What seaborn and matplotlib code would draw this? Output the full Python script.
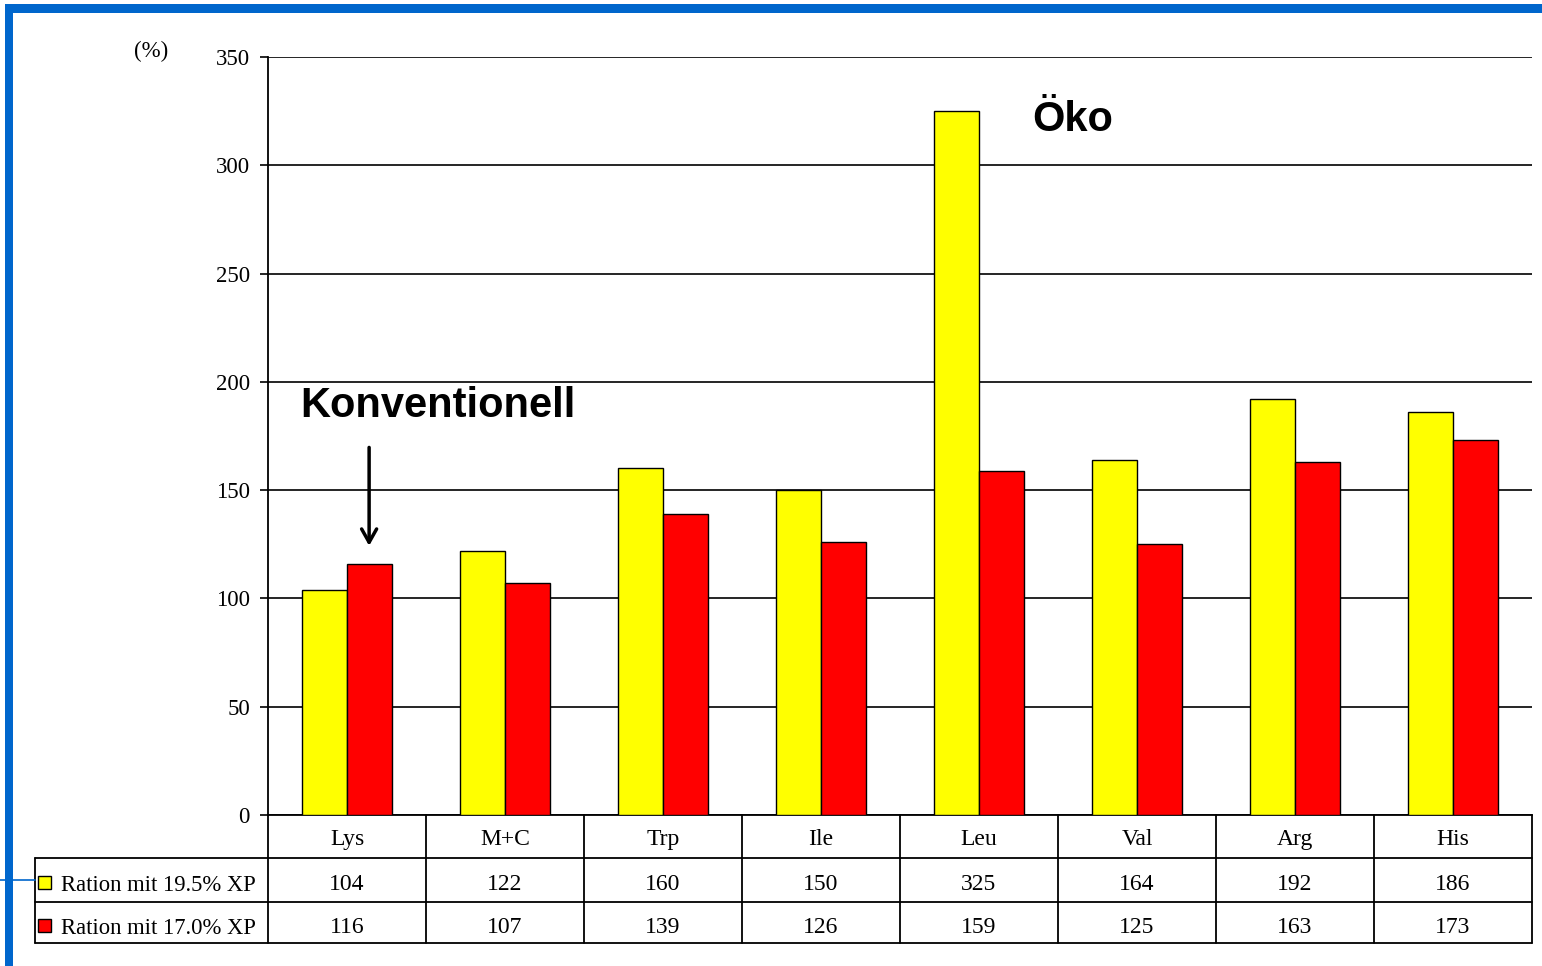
import matplotlib
matplotlib.use("Agg")
import matplotlib.pyplot as plt
import matplotlib.transforms as mtransforms
from matplotlib.patches import Rectangle
from matplotlib.lines import Line2D
import seaborn as sns
import pandas as pd

categories = ["Lys", "M+C", "Trp", "Ile", "Leu", "Val", "Arg", "His"]
series_names = ["Ration mit 19.5% XP", "Ration mit 17.0% XP"]
values_195 = [104, 122, 160, 150, 325, 164, 192, 186]
values_170 = [116, 107, 139, 126, 159, 125, 163, 173]
colors = ["#FFFF00", "#FF0000"]
y_ticks = [0, 50, 100, 150, 200, 250, 300, 350]

df = pd.DataFrame({
    "cat": categories * 2,
    "series": [series_names[0]] * len(categories) + [series_names[1]] * len(categories),
    "value": values_195 + values_170,
})

sns.set_theme(style="white")
plt.rcParams["font.family"] = ["Liberation Serif", "DejaVu Serif"]
plt.rcParams["text.color"] = "black"
plt.rcParams["ytick.color"] = "black"
plt.rcParams["ytick.labelcolor"] = "black"

W, H = 1542, 966
fig = plt.figure(figsize=(W / 100, H / 100), dpi=100)
fig.patch.set_facecolor("white")

def fx(px):
    return px / W

def fy(py):
    return 1 - py / H

x0, x1, ytop, ybot = 268, 1532, 57, 815
ax = fig.add_axes([fx(x0), fy(ybot), fx(x1 - x0), (ybot - ytop) / H])

sns.barplot(data=df, x="cat", y="value", hue="series", order=categories,
            hue_order=series_names, palette=colors, saturation=1,
            edgecolor="black", linewidth=1.0, width=0.57, gap=0,
            legend=False, ax=ax, zorder=3)

ax.set_xlim(-0.5, len(categories) - 0.5)
ax.set_ylim(0, 350)
ax.set_yticks(y_ticks)
ax.set_yticklabels([str(t) for t in y_ticks], fontsize=16.5, color="black")
ax.set_xticks([])
ax.set_xlabel("")
ax.set_ylabel("")
ax.yaxis.grid(True, color="black", linewidth=1.2)
ax.set_axisbelow(True)
for s in ["top", "right"]:
    ax.spines[s].set_visible(False)
for s in ["left", "bottom"]:
    ax.spines[s].set_color("black")
    ax.spines[s].set_linewidth(1.3)
ax.tick_params(axis="y", which="both", left=True, length=6, width=1.2,
               color="black", pad=7, labelcolor="black")
ax.set_facecolor("white")

# (%) label
fig.text(fx(151), fy(51), "(%)", ha="center", va="center", fontsize=16.5, color="black")

# annotations
sans = ["Liberation Sans", "DejaVu Sans"]
ax.text(0.575, 189, "Konventionell", ha="center", va="center", fontsize=30,
        fontweight="bold", family=sans, color="black", zorder=5)
ax.text(4.59, 321, "Öko", ha="center", va="center", fontsize=30,
        fontweight="bold", family=sans, color="black", zorder=5)
ax.annotate("", xy=(0.14, 123), xytext=(0.14, 171),
            arrowprops=dict(arrowstyle="->,head_length=0.8,head_width=0.45",
                            color="black", lw=2.5), zorder=5)

# data table
bt = mtransforms.blended_transform_factory(ax.transData, fig.transFigure)
lw = 1.3
row_lines = [858, 902, 943]
for ry in row_lines:
    fig.add_artist(Line2D([fx(35), fx(x1)], [fy(ry), fy(ry)], color="black", lw=lw))
for k in range(len(categories) + 1):
    fig.add_artist(Line2D([k - 0.5, k - 0.5], [fy(815), fy(943)], color="black",
                          lw=lw, transform=bt))
fig.add_artist(Line2D([fx(35), fx(35)], [fy(858), fy(943)], color="black", lw=lw))

fs = 17
for i, c in enumerate(categories):
    fig.text(i, fy(845), c, transform=bt, ha="center", va="baseline", fontsize=fs, color="black")
    fig.text(i, fy(890), str(values_195[i]), transform=bt, ha="center", va="baseline", fontsize=fs, color="black")
    fig.text(i, fy(933), str(values_170[i]), transform=bt, ha="center", va="baseline", fontsize=fs, color="black")

for j, (name, col, cy, by) in enumerate(zip(series_names, colors, [882, 925], [891, 934])):
    fig.add_artist(Rectangle((fx(38), fy(cy + 7)), fx(13), 13 / H, facecolor=col,
                             edgecolor="black", lw=1.0))
    fig.text(fx(61), fy(by), name, ha="left", va="baseline", fontsize=16.3, color="black")

# blue frame
blue = "#0066CC"
fig.add_artist(Rectangle((fx(5), fy(13)), fx(W - 5), 9 / H, facecolor=blue,
                         edgecolor="none"))
fig.add_artist(Rectangle((fx(5), 0), fx(8), fy(4), facecolor=blue, edgecolor="none"))
fig.add_artist(Line2D([0, fx(35)], [fy(880), fy(880)], color=blue, lw=1.2))

fig.savefig("out.png", dpi=100, facecolor="white")
